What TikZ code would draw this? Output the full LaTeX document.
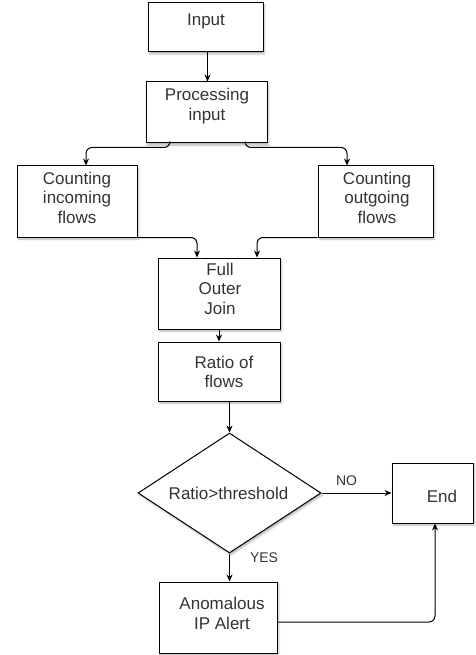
\documentclass[tikz,border=0pt]{standalone}
\usepackage{fontspec}
\setmainfont{Liberation Sans}
\usetikzlibrary{arrows.meta,shapes.geometric,shadows.blur}
\definecolor{txt}{HTML}{333333}
\begin{document}
\begin{tikzpicture}[x=1pt,y=-1pt,
  box/.style={draw=black,line width=1pt,fill=white,rectangle,inner sep=0pt,
    blur shadow={shadow xshift=1.5pt,shadow yshift=-2pt,shadow blur radius=2pt,shadow opacity=30}},
  lbl/.style={text=txt,font=\fontsize{17}{19.5}\selectfont,align=center,inner sep=0pt},
  small/.style={text=txt,font=\fontsize{14}{16}\selectfont,inner sep=0pt},
  arr/.style={draw=black,line width=1pt,-{Stealth[length=7pt,width=6pt]},rounded corners=6pt}]
\useasboundingbox (0,0) rectangle (475,655);
% boxes
\node[box,minimum width=115pt,minimum height=49pt] (inp) at (205.5,27.5) {};
\node[box,minimum width=121pt,minimum height=61pt] (proc) at (206.5,112.5) {};
\node[box,minimum width=120pt,minimum height=71pt] (cin) at (77,201.5) {};
\node[box,minimum width=115pt,minimum height=71pt] (cout) at (375.5,201.5) {};
\node[box,minimum width=122pt,minimum height=71pt] (foj) at (219,293.5) {};
\node[box,minimum width=122pt,minimum height=59pt] (ratio) at (219,371.5) {};
\node[draw=black,line width=1pt,fill=white,diamond,inner sep=0pt,minimum width=183pt,minimum height=120pt,
  blur shadow={shadow xshift=1.5pt,shadow yshift=-2pt,shadow blur radius=2pt,shadow opacity=30}] (dia) at (229.5,493) {};
\node[box,minimum width=81pt,minimum height=60pt] (endb) at (432.5,493) {};
\node[box,minimum width=118pt,minimum height=71pt] (anom) at (218,617.5) {};
% texts
\node[lbl] (tinp) at (206,21.5) {Input};
\node[lbl] (tproc) at (207,106) {Processing\\input};
\node[lbl] (tcin) at (77,197.5) {Counting\\incoming\\flows};
\node[lbl] (tcout) at (377,197.5) {Counting\\outgoing\\flows};
\node[lbl] (tfoj) at (220,288.5) {Full\\Outer\\Join};
\node[lbl] (tratio) at (224,372) {Ratio of\\flows};
\node[lbl] (tdia) at (228.5,493) {Ratio>threshold};
\node[lbl] (tend) at (442,496) {End};
\node[lbl] (tanom) at (222,613.5) {Anomalous\\IP Alert};
% connectors
\draw[arr] ([xshift=2pt]inp.south) -- ([xshift=2pt]inp.south |- proc.north);
\draw[arr] ([xshift=-36.5pt]proc.south) -- ++(0,4) -| ([xshift=9pt]cin.north);
\draw[arr] ([xshift=38.5pt]proc.south) -- ++(0,4) -| ([xshift=-28.5pt]cout.north);
\draw[arr] (cin.south east) -| ([xshift=-22pt]foj.north);
\draw[arr] (cout.south west) -| ([xshift=38pt]foj.north);
\draw[arr] (foj.south) -- (ratio.north);
\draw[arr] (ratio.south -| dia.north) -- (dia.north);
\draw[arr] (dia.east) -- node[small,above,yshift=7pt,xshift=-10pt] (tno) {NO} (endb.west);
\draw[arr] (dia.south) -- node[small,pos=0.15,right=20pt] (tyes) {YES} (dia.south |- anom.north);
\draw[arr] ([yshift=-4.5pt]anom.east) -| ([xshift=2.5pt]endb.south);
\end{tikzpicture}
\end{document}
